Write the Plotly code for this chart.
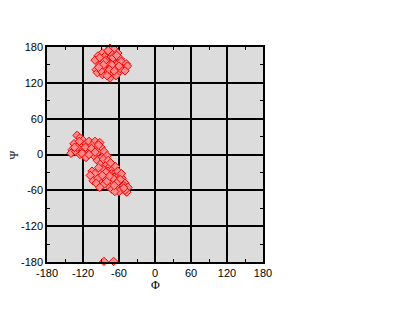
import plotly.graph_objects as go

# Ramachandran data (Phi, Psi) in degrees
phi_beta = [-75, -68, -80, -88, -72, -62, -95, -84, -76, -66, -58, -90, -100, -70, -80, -62, -55,
            -92, -86, -74, -66, -52, -98, -80, -60, -70, -88, -96, -75, -65, -56, -48, -46, -82, -70,
            -78, -64, -92, -84, -72, -58, -50, -90, -76, -68, -86, -60, -94, -80]
psi_beta = [178, 176, 172, 170, 168, 170, 165, 164, 160, 162, 160, 158, 158, 155, 152, 152, 150,
            150, 145, 146, 144, 145, 142, 138, 138, 135, 134, 137, 128, 132, 156, 152, 148, 158, 162,
            174, 166, 162, 156, 150, 144, 140, 140, 142, 140, 150, 148, 146, 132]

phi_alpha = [-130, -125, -120, -135, -128, -138, -140, -132, -122, -115, -110, -100, -92, -105, -118,
             -112, -125, -108, -98, -90, -102, -95, -115, -85, -88, -80, -120, -130, -96, -84,
             -90, -82, -75, -78, -70, -86, -72, -65, -80, -68, -60, -75, -62, -55, -85, -90, -70,
             -58, -78, -50, -65, -55, -48, -72, -85, -60, -52, -45, -80, -67, -47, -50,
             -105, -100, -103, -95, -108, -98, -92,
             -126, -116, -106, -94, -110, -100, -134, -122, -86, -78, -74, -66, -62, -56, -70, -82,
             -58, -64, -76, -52, -68, -88, -94]
psi_alpha = [32, 28, 24, 18, 15, 8, 2, 5, 12, 18, 22, 22, 20, 15, 5,
             8, 0, 2, 10, 12, -2, 4, -5, 5, -5, -2, 8, 12, -10, -12,
             -15, -18, -20, -28, -25, -25, -32, -30, -35, -38, -35, -42, -44, -40, -42, -48, -48,
             -50, -52, -48, -55, -58, -62, -58, -50, -62, -52, -55, -45, -62, -63, -60,
             -28, -32, -44, -40, -35, -48, -55,
             22, 12, 10, 16, 0, 4, 12, 2, -8, -10, -14, -20, -28, -32, -40, -30,
             -42, -48, -36, -56, -52, -35, -22]

phi_edge = [-85, -69]
psi_edge = [-179, -179]

phi = phi_beta + phi_alpha + phi_edge
psi = psi_beta + psi_alpha + psi_edge

tick_vals = [-180, -120, -60, 0, 60, 120, 180]
tick_text = ["-180", "-120", "-60", "0", "60", "120", "180"]
x_title = "Φ"
y_title = "Ψ"

fig = go.Figure()
fig.add_trace(go.Scatter(
    x=phi, y=psi, mode="markers", cliponaxis=False,
    marker=dict(symbol="diamond", size=6.5, color="#ff8a8a",
                line=dict(color="#ff0000", width=1)),
    showlegend=False,
))

axis_common = dict(
    range=[-180, 180], tickvals=tick_vals, ticktext=tick_text,
    showgrid=True, gridcolor="black", gridwidth=1.5, automargin=False,
    zeroline=False, showline=True, linecolor="black", linewidth=1.5,
    mirror="allticks", ticks="inside", ticklen=3, tickcolor="black",
    tickfont=dict(family="Liberation Sans, Arial", size=11, color="black"),
    minor=dict(dtick=30, ticks="inside", ticklen=3, tickcolor="black", showgrid=False),
)

fig.update_xaxes(**axis_common)
fig.update_yaxes(**axis_common)

title_font = dict(family="Liberation Serif, Times New Roman", size=12, color="black")
fig.add_annotation(text=x_title, xref="paper", yref="paper", x=0.5, y=-0.105,
                   xanchor="center", yanchor="middle", showarrow=False, font=title_font)
fig.add_annotation(text=y_title, xref="paper", yref="paper", x=-0.153, y=0.5,
                   xanchor="center", yanchor="middle", showarrow=False, textangle=-90,
                   font=title_font)

fig.update_layout(
    width=400, height=309,
    margin=dict(l=47, r=137, t=47, b=47),
    plot_bgcolor="#dcdcdc", paper_bgcolor="white",
    template="none",
)

fig.write_html("out.html")
